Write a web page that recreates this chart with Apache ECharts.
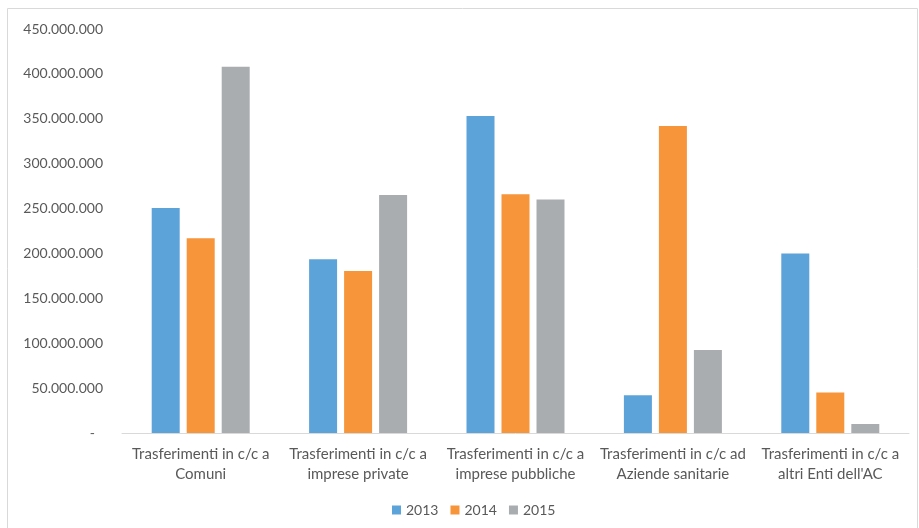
<!DOCTYPE html>
<html>
<head>
<meta charset="utf-8">
<script src="https://cdn.jsdelivr.net/npm/echarts@6/dist/echarts.min.js"></script>
<style>
  html, body { margin: 0; padding: 0; background: #fff; }
  #chart { width: 919px; height: 528px; }
</style>
</head>
<body>
<div id="chart"></div>
<script>
// Categories and yearly values (euro)
var categories = [
  'Trasferimenti in c/c a\nComuni',
  'Trasferimenti in c/c a\nimprese private',
  'Trasferimenti in c/c a\nimprese pubbliche',
  'Trasferimenti in c/c ad\nAziende sanitarie',
  'Trasferimenti in c/c a\naltri Enti dell\'AC'
];
var years = ['2013', '2014', '2015'];
var values2013 = [250500000, 193500000, 353000000, 42000000, 200000000];
var values2014 = [217000000, 180500000, 266000000, 342000000, 45000000];
var values2015 = [408000000, 265000000, 260000000, 92500000, 10000000];
var colors = ['#5CA3DA', '#F7953B', '#AAADB0'];

function fmtThousands(v) {
  if (v === 0) return '{d|-}';
  return String(Math.round(v)).replace(/\B(?=(\d{3})+(?!\d))/g, '.');
}

var chart = echarts.init(document.getElementById('chart'));
var font = 'Lato, "Open Sans", sans-serif';
var seriesData = [values2013, values2014, values2015];

chart.setOption({
  animation: false,
  textStyle: { fontFamily: font },
  graphic: [{
    type: 'rect',
    shape: { x: 7.5, y: 8.5, width: 910, height: 530 },
    style: { fill: 'none', stroke: '#D9D9D9', lineWidth: 1 },
    silent: true
  }],
  grid: { left: 122, right: 10, top: 29, bottom: 95 },
  legend: {
    data: years,
    left: 387,
    top: 498,
    itemWidth: 9,
    itemHeight: 9,
    itemGap: 12,
    icon: 'rect',
    textStyle: { color: '#595959', fontSize: 14, fontFamily: font }
  },
  xAxis: {
    type: 'category',
    data: categories,
    axisLine: { lineStyle: { color: '#D9D9D9', width: 1 } },
    axisTick: { show: false },
    axisLabel: { color: '#595959', fontSize: 15, lineHeight: 20, margin: 11, interval: 0, fontFamily: font }
  },
  yAxis: {
    type: 'value',
    min: 0,
    max: 450000000,
    interval: 50000000,
    splitLine: { show: false },
    axisLine: { show: false },
    axisTick: { show: false },
    axisLabel: {
      color: '#595959',
      fontSize: 14,
      margin: 19,
      fontFamily: font,
      formatter: fmtThousands,
      rich: { d: { color: '#595959', fontSize: 14, padding: [0, 8, 0, 0], fontFamily: font } }
    }
  },
  series: years.map(function (y, i) {
    return {
      name: y,
      type: 'bar',
      data: seriesData[i],
      barWidth: 28,
      barGap: '25%',
      itemStyle: { color: colors[i] }
    };
  })
});
</script>
</body>
</html>
